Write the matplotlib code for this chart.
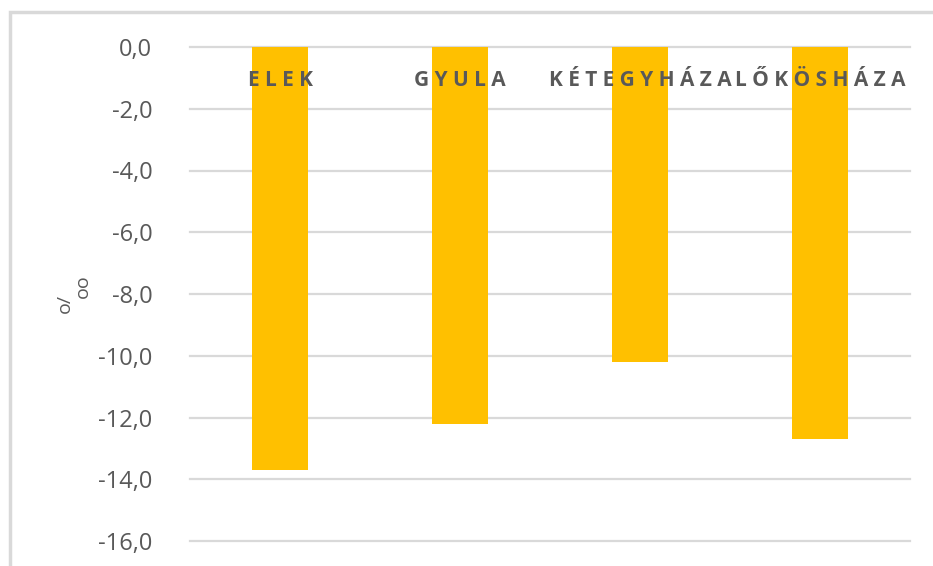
# ========== Librerias ==========
import matplotlib
matplotlib.use('Agg')
from matplotlib import pyplot as plt
from matplotlib.patches import Rectangle
from matplotlib.ticker import FuncFormatter, MultipleLocator

# ========== Datos ==========
telepulesek = ['ELEK', 'GYULA', 'KÉTEGYHÁZA', 'LŐKÖSHÁZA']
ertekek = [-13.7, -12.2, -10.2, -12.7]
y_min, y_max, y_lepes = -16, 0, 2

# ========== Stilus ==========
plt.rcParams['font.family'] = ['Open Sans', 'DejaVu Sans']
szurke = '#595959'
racs = '#d9d9d9'
sarga = '#ffc000'

# ========== Abra ==========
fig = plt.figure(figsize=(9.33, 5.66), dpi=100)
ax = fig.add_axes([190 / 933, 1 - 541 / 566, 720 / 933, 494 / 566])

x = list(range(len(telepulesek)))
ax.bar(x, ertekek, width=0.31, color=sarga, zorder=2)

# kategoria cimkek a 0 vonal alatt, ritkitott betukkel
for i, nev in enumerate(telepulesek):
    ax.text(i, -1.1, ' '.join(nev), ha='center', va='center',
            fontsize=15, fontweight='bold', color=szurke, zorder=3)

ax.set_xlim(-0.5, len(telepulesek) - 0.5)
ax.set_ylim(y_min, y_max)
ax.yaxis.set_major_locator(MultipleLocator(y_lepes))
ax.yaxis.set_major_formatter(FuncFormatter(lambda v, p: f'{v:.1f}'.replace('.', ',')))
ax.set_xticks([])
ax.tick_params(axis='y', length=0, pad=27, labelsize=17, labelcolor=szurke)
ax.grid(axis='y', color=racs, linewidth=1.6)
ax.set_axisbelow(True)
for vonal in ax.get_ygridlines():
    vonal.set_clip_on(False)
for s in ax.spines.values():
    s.set_visible(False)

# tengelycim: o/ es lejjebb tolt oo (ezrelek)
ax.text(-0.174, 0.48, 'o/', rotation=90, ha='center', va='center',
        fontsize=14, color=szurke, transform=ax.transAxes)
ax.text(-0.149, 0.515, 'oo', rotation=90, ha='center', va='center',
        fontsize=14, color=szurke, transform=ax.transAxes)

# kulso keret
fig.patches.append(Rectangle((10 / 933, -0.1), 1.2, 1.1 - 12 / 566,
                             transform=fig.transFigure, fill=False,
                             edgecolor=racs, linewidth=2.5))

fig.savefig('out.png', dpi=100)
